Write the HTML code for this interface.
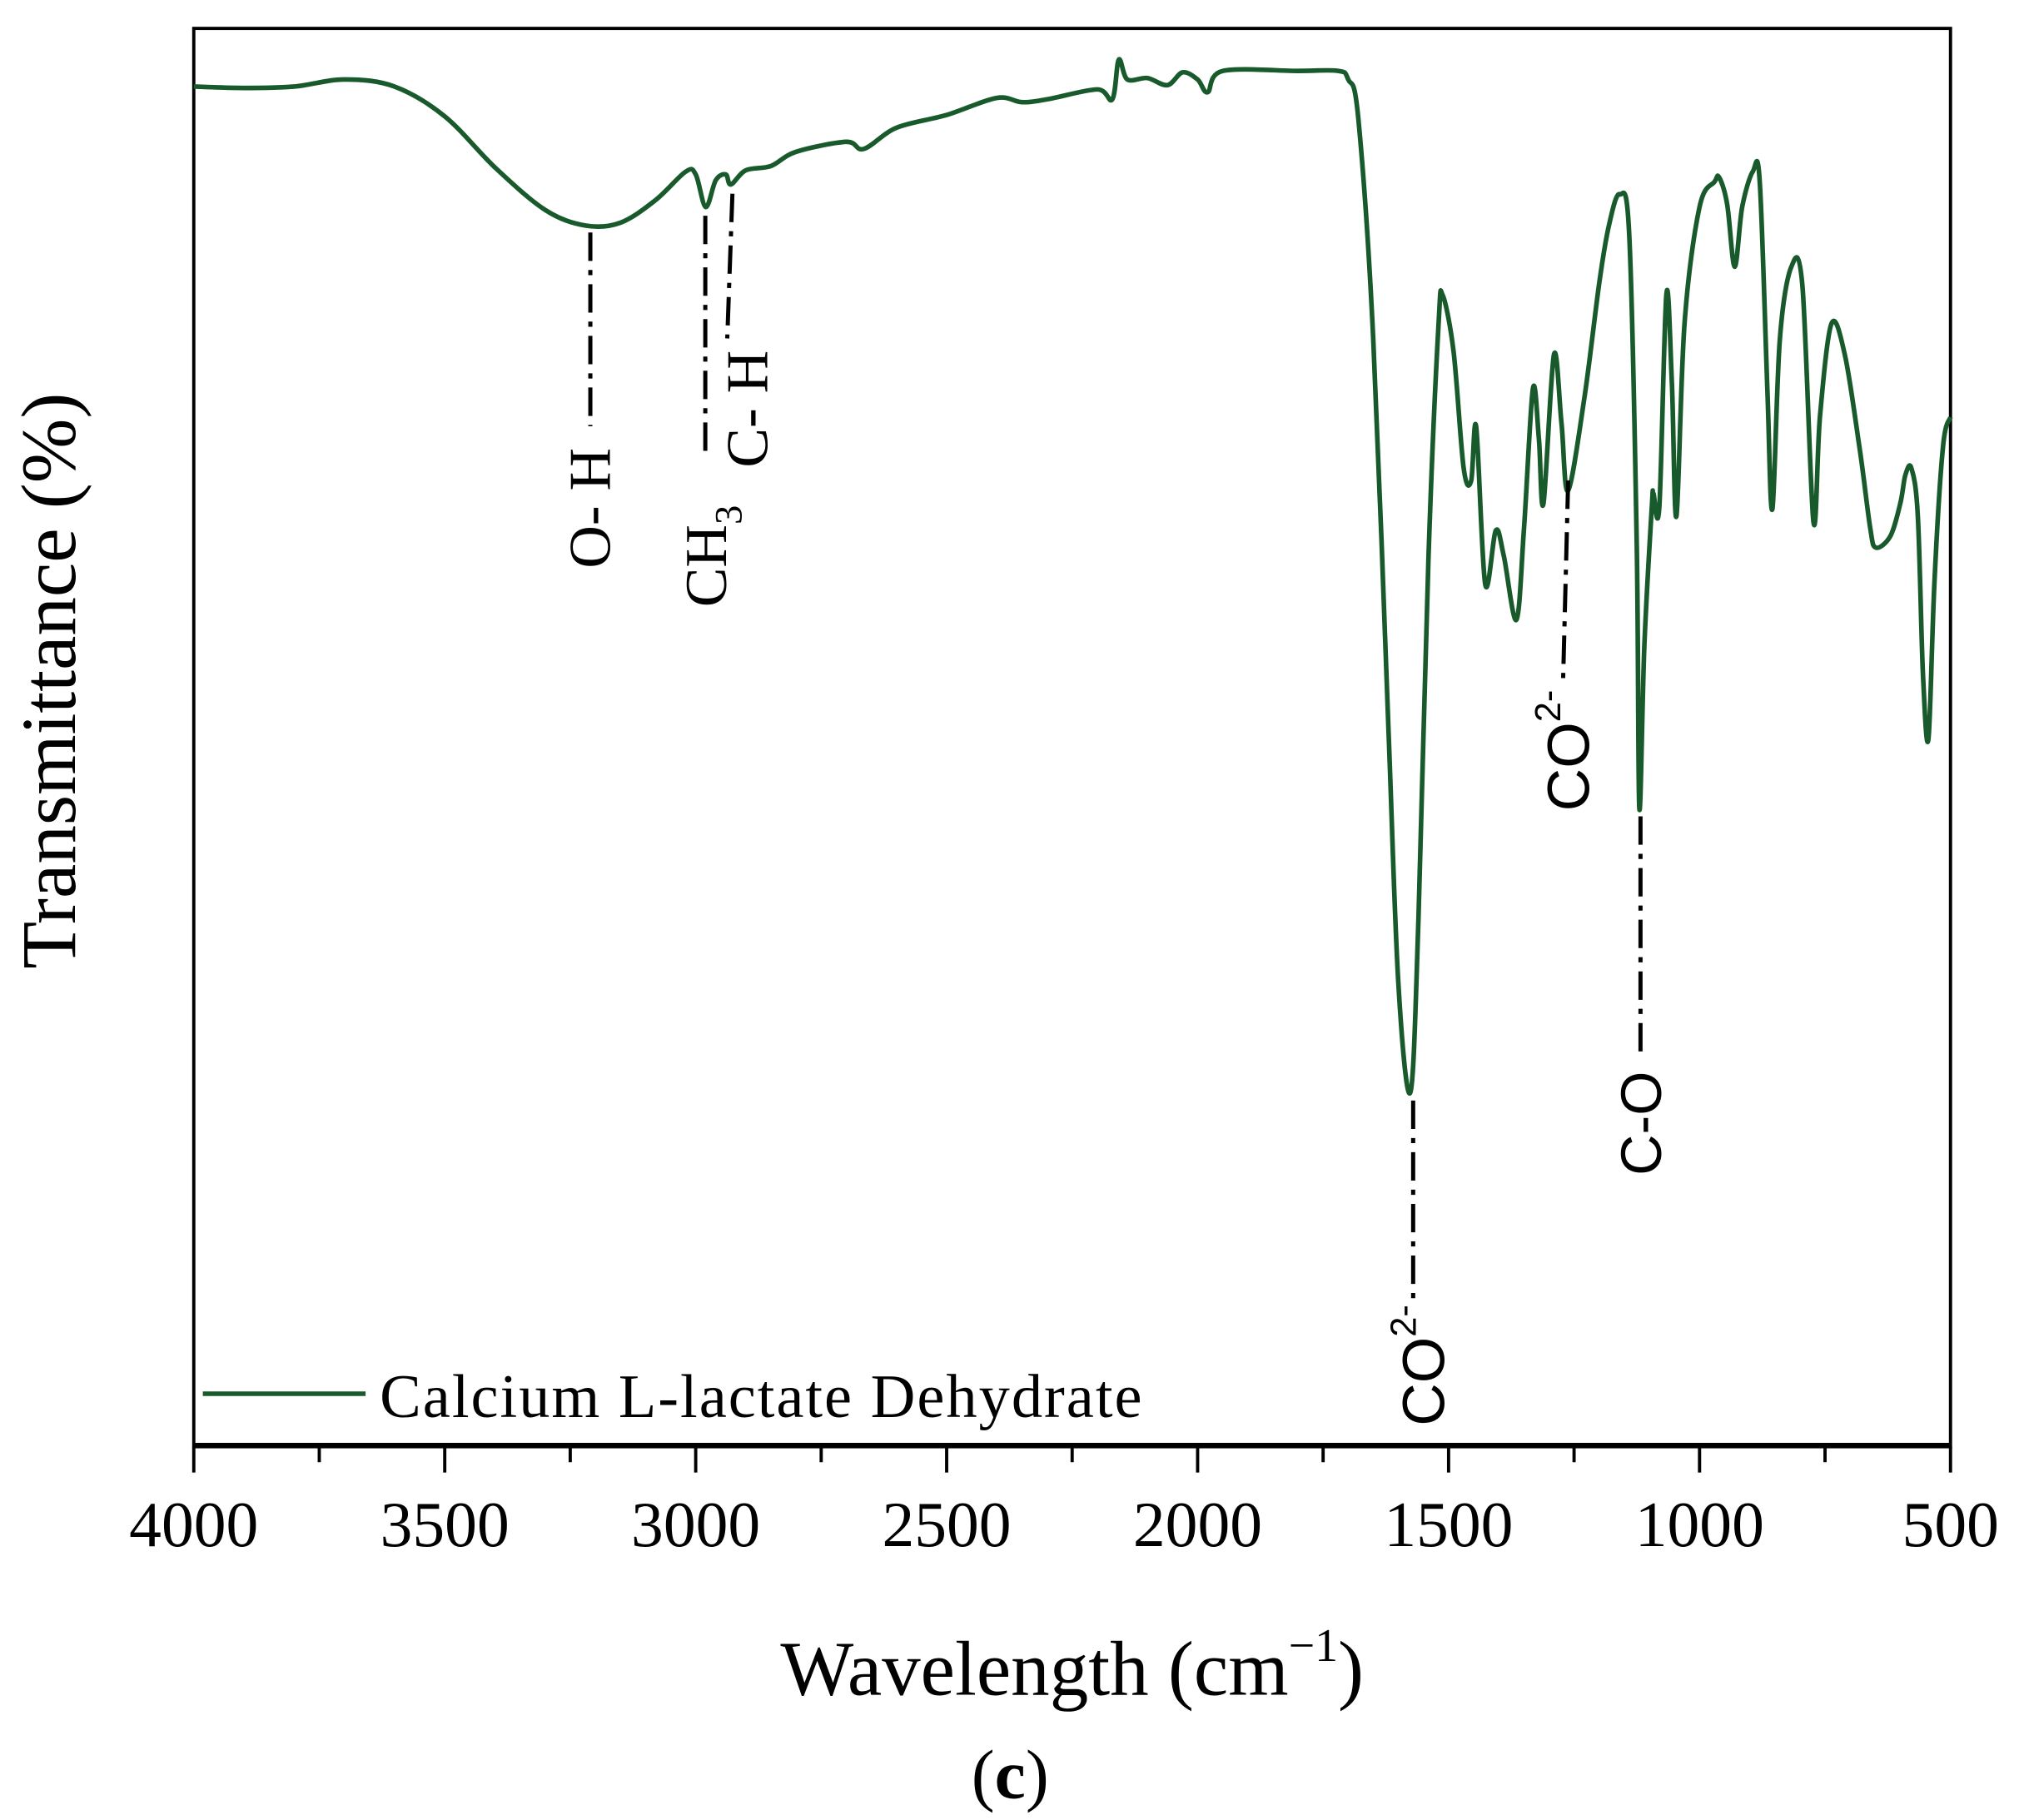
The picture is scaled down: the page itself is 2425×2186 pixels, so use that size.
<!DOCTYPE html>
<html><head><meta charset="utf-8"><style>
html,body{margin:0;padding:0;background:#fff;}
svg{display:block;}
text{font-family:"Liberation Serif",serif;fill:#000;}
.sans{font-family:"Liberation Sans",sans-serif;}
</style></head><body>
<svg id="chart" width="2425" height="2186" viewBox="0 0 1563 1409" xmlns="http://www.w3.org/2000/svg">
<rect x="0" y="0" width="1563" height="1409" fill="#fff"/>
<rect x="150" y="22" width="1360" height="1098" fill="none" stroke="#000" stroke-width="2.5"/>
<line x1="150" y1="1119" x2="1510" y2="1119" stroke="#000" stroke-width="4"/>
<g id="ticks"></g>
<g id="ticklabels"></g>
<path id="spectrum" fill="none" stroke="#185a2c" stroke-width="3.6" stroke-linejoin="round"/>
<g id="annots" stroke="#000" stroke-width="3.2" stroke-dasharray="22,7,4,7" fill="none">
<line x1="457" y1="180" x2="457" y2="330"/>
<line x1="546" y1="167" x2="546" y2="352"/>
<line x1="567" y1="150" x2="563" y2="262"/>
<line x1="1094" y1="852" x2="1094" y2="1012"/>
<line x1="1214" y1="372" x2="1210" y2="530"/>
<line x1="1270" y1="632" x2="1270" y2="820"/>
</g>
<text transform="translate(472,440) rotate(-90)" font-size="46">O- H</text>
<text transform="translate(562,470) rotate(-90)" font-size="46">CH<tspan font-size="30" dy="12">3</tspan></text>
<text transform="translate(594,362) rotate(-90)" font-size="46">C- H</text>
<text class="sans" transform="translate(1118,1104) rotate(-90)" font-size="46">CO<tspan font-size="28" dy="-22">2-</tspan></text>
<text class="sans" transform="translate(1230,628) rotate(-90)" font-size="46">CO<tspan font-size="28" dy="-22">2-</tspan></text>
<text class="sans" transform="translate(1286,910) rotate(-90)" font-size="44">C-O</text>
<line x1="157" y1="1079" x2="283" y2="1079" stroke="#185a2c" stroke-width="3.5"/>
<text x="294" y="1097" font-size="48" textLength="590">Calcium L-lactate Dehydrate</text>
<text x="830" y="1312" font-size="60" text-anchor="middle">Wavelength (cm<tspan font-size="36" dy="-26">−1</tspan><tspan dy="26">)</tspan></text>
<text transform="translate(58,527) rotate(-90)" font-size="60" text-anchor="middle">Transmittance (%)</text>
<text x="782" y="1392" font-size="54" text-anchor="middle">(<tspan font-weight="bold">c</tspan>)</text>
</svg>
<script>
const wavenumbers=[4000,3900,3800,3700,3600,3500,3400,3300,3220,3150,3080,3020,3000,2980,2960,2940,2930,2900,2850,2800,2700,2665,2600,2500,2400,2350,2300,2200,2170,2157,2140,2100,2060,2030,2000,1980,1950,1800,1720,1700,1680,1650,1620,1600,1576,1560,1540,1520,1512,1490,1470,1455,1445,1427,1406,1390,1365,1350,1332,1320,1311,1290,1275,1262,1230,1200,1180,1159,1140,1125,1120,1110,1095,1092,1080,1066,1055,1046,1030,1000,970,961,945,930,915,894,880,865,855,840,817,795,773,760,737,710,680,660,649,620,600,590,578,565,555,544,532,515,500];
const transmittance=[95.9,95.8,95.9,96.4,95.9,93.8,90.2,87.2,86.1,86.3,87.9,89.9,89.7,87.4,89.3,89.7,89.0,90.0,90.3,91.3,92.0,91.5,93.0,93.9,95.1,94.8,95.0,95.7,95.0,97.8,96.4,96.5,96.0,96.9,96.4,95.5,97.0,97.0,97.0,96.4,93.7,78.1,50.8,32.6,25.0,37.2,62.8,79.2,81.2,77.2,69.0,68.1,71.9,60.8,64.6,62.8,58.3,64.6,74.6,71.0,66.5,77.0,72.1,67.4,73.8,82.0,86.2,88.3,85.4,63.6,45.0,56.5,66.3,67.2,66.3,81.3,75.0,65.6,79.2,87.4,89.2,89.5,87.6,83.2,87.4,89.9,89.2,74.6,66.1,78.1,83.2,81.8,65.2,72.7,79.2,76.9,70.1,64.8,63.4,64.2,66.5,68.5,69.0,65.6,54.6,49.9,61.0,70.5,72.6];
const tickValues=[4000,3500,3000,2500,2000,1500,1000,500];
const minorTickValues=[3750,3250,2750,2250,1750,1250,750];
const L=150,R=1510,T=22,B=1120;
const xs=v=>L+(4000-v)/(4000-500)*(R-L);
const ys=v=>B-v/100*(B-T);
const pts=wavenumbers.map((w,i)=>[xs(w),ys(transmittance[i])]);
let d='M'+pts[0][0].toFixed(1)+','+pts[0][1].toFixed(1);
for(let i=0;i<pts.length-1;i++){
 const p0=pts[Math.max(0,i-1)],p1=pts[i],p2=pts[i+1],p3=pts[Math.min(pts.length-1,i+2)];
 const k=1/6;
 const c1=[p1[0]+(p2[0]-p0[0])*k,p1[1]+(p2[1]-p0[1])*k];
 const c2=[p2[0]-(p3[0]-p1[0])*k,p2[1]-(p3[1]-p1[1])*k];
 d+='C'+c1[0].toFixed(1)+','+c1[1].toFixed(1)+' '+c2[0].toFixed(1)+','+c2[1].toFixed(1)+' '+p2[0].toFixed(1)+','+p2[1].toFixed(1);
}
document.getElementById('spectrum').setAttribute('d',d);
const NS='http://www.w3.org/2000/svg';
const tg=document.getElementById('ticks'),lg=document.getElementById('ticklabels');
tickValues.forEach(v=>{
 const l=document.createElementNS(NS,'line');
 
 
 l.setAttribute('x1',xs(v));l.setAttribute('x2',xs(v));l.setAttribute('y1',1120);l.setAttribute('y2',1140);
 l.setAttribute('stroke','#000');l.setAttribute('stroke-width','2.5');tg.appendChild(l);
 const t=document.createElementNS(NS,'text');
 
 
 t.setAttribute('x',xs(v));t.setAttribute('y',1197);t.setAttribute('font-size','50');t.setAttribute('text-anchor','middle');
 t.textContent=v;lg.appendChild(t);
});
minorTickValues.forEach(v=>{
 const l=document.createElementNS(NS,'line');
 
 
 l.setAttribute('x1',xs(v));l.setAttribute('x2',xs(v));l.setAttribute('y1',1120);l.setAttribute('y2',1132);
 l.setAttribute('stroke','#000');l.setAttribute('stroke-width','2.5');tg.appendChild(l);
});
</script>
</body></html>
